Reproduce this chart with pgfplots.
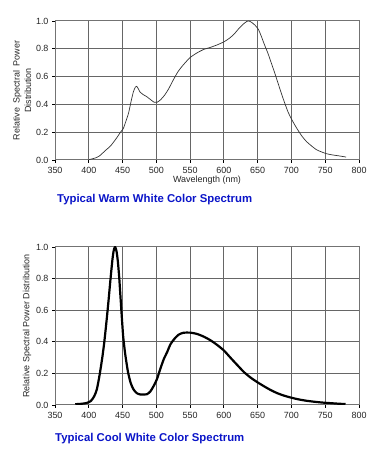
\documentclass[border=0pt]{standalone}
\usepackage{fontspec}
\setmainfont{Liberation Sans}
\usepackage{pgfplots}
\pgfplotsset{compat=1.18}
\definecolor{ttlblue}{RGB}{10,20,200}
\pgfplotsset{
  mystyle/.style={
    scale only axis,
    xmin=350, xmax=800, ymin=0, ymax=1,
    xtick={350,400,...,800},
    ytick={0,0.2,...,1.0},
    yticklabel style={/pgf/number format/.cd,fixed,fixed zerofill,precision=1},
    /pgf/number format/assume math mode=true,
    grid=major,
    major grid style={black!60, line width=1bp},
    axis line style={black!55, line width=1bp},
    tick style={black, line width=0.8bp},
    tick align=outside,
    major tick length=3bp,
    ticklabel style={font=\fontsize{9}{10}\selectfont, text=black!85},
    label style={font=\fontsize{9}{10}\selectfont, text=black!85},
    xtick pos=bottom, ytick pos=left,
    xticklabel style={yshift=-1bp},
  }
}
\begin{document}
\begin{tikzpicture}[x=1bp,y=1bp]
\path[use as bounding box] (0,0) rectangle (384,453);
\begin{axis}[mystyle, at={(55bp,293bp)}, anchor=south west, width=304bp, height=139bp,
  xlabel={Wavelength (nm)}, xlabel style={yshift=5bp},
  ylabel={\shortstack{Relative\enspace Spectral\enspace Power\\Distribution}}, ylabel style={yshift=-2bp}]
\addplot[black!80, line width=0.7bp, smooth, tension=0.4] coordinates {
(400,0.003)(405,0.008)(410,0.015)(416,0.03)(425,0.07)(432,0.10)(440,0.15)(447,0.20)
(451,0.225)(455,0.28)(459,0.34)(463,0.43)(466,0.49)(469,0.525)(471,0.53)(473,0.515)
(476,0.488)(480,0.472)(486,0.455)(492,0.432)(497,0.415)(501,0.415)(506,0.432)(512,0.465)
(518,0.51)(525,0.575)(532,0.635)(540,0.685)(550,0.737)(560,0.77)(570,0.795)(580,0.81)
(590,0.828)(600,0.85)(608,0.875)(615,0.905)(622,0.945)(628,0.975)(634,0.997)(637,1.0)
(641,0.99)(646,0.97)(651,0.94)(655,0.895)(660,0.83)(665,0.77)(670,0.70)(675,0.63)
(680,0.555)(685,0.48)(690,0.41)(695,0.345)(700,0.295)(707,0.235)(715,0.175)(722,0.134)
(730,0.10)(737,0.074)(745,0.057)(752,0.045)(760,0.037)(767,0.032)(775,0.026)(781,0.021)
};
\end{axis}
\node[anchor=west, inner sep=0pt, text=ttlblue, font=\bfseries\fontsize{11.4}{13}\selectfont] at (57,253) {Typical Warm White Color Spectrum};
\begin{axis}[mystyle, at={(55bp,48bp)}, anchor=south west, width=304bp, height=158bp,
  ylabel={Relative Spectral Power Distribution}, ylabel style={yshift=-2bp}]
\addplot[black, line width=2.2bp, smooth, tension=0.4] coordinates {
(380,0.005)(390,0.008)(397,0.013)(403,0.025)(408,0.055)(412,0.10)(416,0.19)(420,0.30)
(423,0.40)(426,0.52)(429,0.65)(432,0.79)(435,0.92)(437,0.98)(439,1.0)(441,0.975)
(443,0.91)(445,0.81)(447,0.68)(449,0.55)(451,0.43)(454,0.32)(458,0.21)(462,0.14)
(466,0.10)(471,0.075)(476,0.067)(481,0.066)(486,0.068)(491,0.085)(496,0.12)(501,0.165)
(506,0.23)(511,0.29)(516,0.335)(521,0.385)(527,0.42)(533,0.445)(540,0.457)(550,0.458)
(560,0.45)(570,0.433)(580,0.41)(590,0.38)(600,0.345)(610,0.298)(620,0.252)(630,0.207)
(640,0.172)(650,0.143)(660,0.117)(670,0.093)(680,0.073)(690,0.058)(700,0.046)(710,0.036)
(722,0.027)(735,0.02)(747,0.015)(760,0.011)(770,0.008)(780,0.006)
};
\end{axis}
\node[anchor=west, inner sep=0pt, text=ttlblue, font=\bfseries\fontsize{11.4}{13}\selectfont] at (55,14) {Typical Cool White Color Spectrum};
\end{tikzpicture}
\end{document}
